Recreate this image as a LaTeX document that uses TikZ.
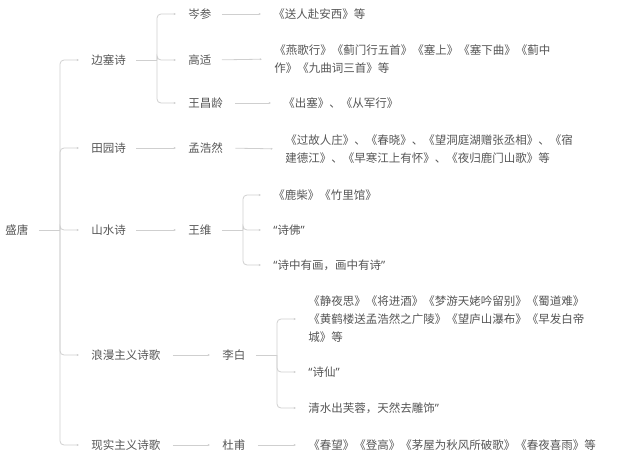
\documentclass[tikz,border=0pt]{standalone}
\usepackage{fontspec}
\setmainfont{Noto Sans CJK SC}
\newfontfamily\latinq{Noto Sans}
\newcommand{\oquote}{{\latinq “}}
\newcommand{\cquote}{{\latinq ”}}
\usetikzlibrary{arrows.meta}
\definecolor{txtgray}{HTML}{555555}
\definecolor{linkgray}{HTML}{CFCFCF}
\begin{document}
\begin{tikzpicture}[x=1pt, y=-1pt, line width=0.8pt,
    item/.style = {anchor=west, inner sep=0pt, text=txtgray, align=left,
                   font=\fontsize{11.5}{18}\selectfont},
    link/.style = {draw=linkgray, rounded corners=4pt, shorten >=12pt,
                   -{Latex[length=2.2pt, width=2.2pt]}},
    stem/.style = {draw=linkgray, shorten <=10pt}]
            \useasboundingbox (0,0) rectangle (641,456);

            % draw root and first level
            \node[item] (shengtang) at (5,230)  {盛唐};
            \node[item] (biansai)   at (91,60)  {边塞诗};
            \node[item] (tianyuan)  at (91,148) {田园诗};
            \node[item] (shanshui)  at (91,230) {山水诗};
            \node[item] (langman)   at (91,355) {浪漫主义诗歌};
            \node[item] (xianshi)   at (91,445) {现实主义诗歌};

            % draw poets
            \node[item] (censhen)  at (188,14)  {岑参};
            \node[item] (gaoshi)   at (188,60)  {高适};
            \node[item] (wangcl)   at (188,103) {王昌龄};
            \node[item] (menghr)   at (188,148) {孟浩然};
            \node[item] (wangwei)  at (188,230) {王维};
            \node[item] (libai)    at (222,355) {李白};
            \node[item] (dufu)     at (222,445) {杜甫};

            % draw works
            \node[item] (censhenA) at (273,14)  {《送人赴安西》等};
            \node[item] (gaoshiA)  at (274,59)  {《燕歌行》《蓟门行五首》《塞上》《塞下曲》《蓟中\\作》《九曲词三首》等};
            \node[item] (wangclA)  at (283,103) {《出塞》、《从军行》};
            \node[item] (menghrA)  at (285,149) {《过故人庄》、《春晓》、《望洞庭湖赠张丞相》、《宿\\建德江》、《早寒江上有怀》、《夜归鹿门山歌》等};
            \node[item] (wangweiA) at (273,195) {《鹿柴》《竹里馆》};
            \node[item] (wangweiB) at (273,230) {\oquote 诗佛\cquote};
            \node[item] (wangweiC) at (273,265) {\oquote 诗中有画，画中有诗\cquote};
            \node[item] (libaiA)   at (308,319) {《静夜思》《将进酒》《梦游天姥吟留别》《蜀道难》\\《黄鹤楼送孟浩然之广陵》《望庐山瀑布》《早发白帝\\城》等};
            \node[item] (libaiB)   at (308,372) {\oquote 诗仙\cquote};
            \node[item] (libaiC)   at (308,408) {清水出芙蓉，天然去雕饰\cquote};
            \node[item] (dufuA)    at (308,445) {《春望》《登高》《茅屋为秋风所破歌》《春夜喜雨》等};

            % draw branch points
            \coordinate (fork0) at (60,230);
            \coordinate (fork1) at (157,60);
            \coordinate (fork2) at (243,230);
            \coordinate (fork3) at (277,355);

            % draw connectors
            \draw[stem] (shengtang.east) -- (fork0);
            \foreach \n in {biansai, tianyuan, shanshui, langman, xianshi}
                \draw[link] (fork0) |- (\n.west);

            \draw[stem] (biansai.east) -- (fork1);
            \foreach \n in {censhen, gaoshi, wangcl}
                \draw[link] (fork1) |- (\n.west);

            \draw[stem] (wangwei.east) -- (fork2);
            \foreach \n in {wangweiA, wangweiB, wangweiC}
                \draw[link] (fork2) |- (\n.west);

            \draw[stem] (libai.east) -- (fork3);
            \foreach \n in {libaiA, libaiB, libaiC}
                \draw[link] (fork3) |- (\n.west);

            \draw[link, shorten <=10pt] (tianyuan.east) -- (menghr.west);
            \draw[link, shorten <=10pt] (shanshui.east) -- (wangwei.west);
            \draw[link, shorten <=12pt] (langman.east)  -- (libai.west);
            \draw[link, shorten <=12pt] (xianshi.east)  -- (dufu.west);
            \draw[link, shorten <=10pt] (censhen.east)  -- (censhenA.west);
            \draw[link, shorten <=10pt] (gaoshi.east)   -- (gaoshiA.west);
            \draw[link, shorten <=12pt] (wangcl.east)   -- (wangclA.west);
            \draw[link, shorten <=12pt] (menghr.east)   -- (menghrA.west);
            \draw[link, shorten <=12pt] (dufu.east)     -- (dufuA.west);
        \end{tikzpicture}
\end{document}
